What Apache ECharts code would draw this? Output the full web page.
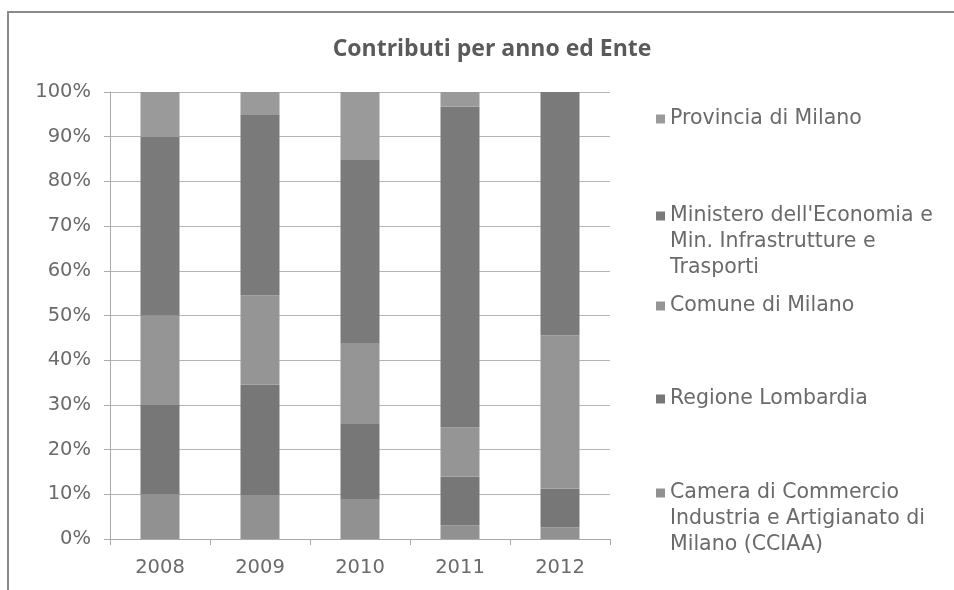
<!DOCTYPE html>
<html>
<head>
<meta charset="utf-8">
<script src="https://cdn.jsdelivr.net/npm/echarts@6/dist/echarts.min.js"></script>
<style>
html,body{margin:0;padding:0;background:#fff;}
#chart{width:954px;height:590px;}
</style>
</head>
<body>
<div id="chart"></div>
<script>
const years = ['2008', '2009', '2010', '2011', '2012'];
const yTicks = [0, 10, 20, 30, 40, 50, 60, 70, 80, 90, 100];
const camera = [10, 9.7, 8.8, 3.1, 2.6];
const regione = [20, 24.8, 16.9, 10.9, 8.7];
const comune = [20, 20, 18, 11, 34.2];
const ministero = [40, 40.5, 41.1, 71.7, 54.5];
const provincia = [10, 5, 15.2, 3.3, 0];

const nameCamera = 'Camera di Commercio\nIndustria e Artigianato di\nMilano (CCIAA)';
const nameRegione = 'Regione Lombardia';
const nameComune = 'Comune di Milano';
const nameMinistero = "Ministero dell'Economia e\nMin. Infrastrutture e\nTrasporti";
const nameProvincia = 'Provincia di Milano';

const FONT = 'DejaVu Sans';
const TXT = '#6a6a6a';
const LH = 26;

function mkLegend(name, iconCenterY, lines) {
  // prepend blank lines so that the first text line sits beside the icon
  const blanks = lines - 1;
  const total = lines + blanks;
  return {
    orient: 'vertical',
    left: 656,
    top: iconCenterY - total * LH / 2,
    padding: 0,
    icon: 'rect',
    itemWidth: 9,
    itemHeight: 9,
    selectedMode: false,
    data: [name],
    formatter: function (n) { return '\n'.repeat(blanks) + n; },
    textStyle: { fontFamily: FONT, fontSize: 20.5, color: TXT, lineHeight: LH }
  };
}

const chart = echarts.init(document.getElementById('chart'));
const option = {
  backgroundColor: '#ffffff',
  animation: false,
  title: {
    text: 'Contributi per anno ed Ente',
    left: 487,
    textAlign: 'center',
    top: 33,
    textStyle: { fontFamily: 'Open Sans', fontWeight: 'bold', fontSize: 23, color: '#5a5a5a' }
  },
  graphic: [{
    type: 'rect', z: -10, silent: true,
    shape: { x: 8, y: 12, width: 1000, height: 1000 },
    style: { fill: 'none', stroke: '#8a8a8a', lineWidth: 2 }
  }],
  legend: [
    mkLegend(nameProvincia, 119, 1),
    mkLegend(nameMinistero, 216, 3),
    mkLegend(nameComune, 306, 1),
    mkLegend(nameRegione, 399, 1),
    mkLegend(nameCamera, 493, 3)
  ],
  grid: { left: 110, right: 344, top: 92, bottom: 51, containLabel: false },
  xAxis: {
    type: 'category',
    data: years,
    axisLine: { lineStyle: { color: '#aaaaaa', width: 1 } },
    axisTick: { show: true, length: 6, lineStyle: { color: '#aaaaaa' } },
    axisLabel: { fontFamily: FONT, fontSize: 19.5, color: TXT, margin: 19 }
  },
  yAxis: {
    type: 'value',
    min: yTicks[0],
    max: yTicks[yTicks.length - 1],
    interval: 10,
    axisLine: { show: true, lineStyle: { color: '#aaaaaa', width: 1 } },
    axisTick: { show: true, length: 6, lineStyle: { color: '#aaaaaa' } },
    splitLine: { lineStyle: { color: '#b4b4b4', width: 1 } },
    axisLabel: { fontFamily: FONT, fontSize: 19.5, color: TXT, margin: 19, formatter: '{value}%' }
  },
  series: [
    { name: nameCamera, type: 'bar', stack: 's', barWidth: 39, data: camera, itemStyle: { color: '#919191' } },
    { name: nameRegione, type: 'bar', stack: 's', barWidth: 39, data: regione, itemStyle: { color: '#777777' } },
    { name: nameComune, type: 'bar', stack: 's', barWidth: 39, data: comune, itemStyle: { color: '#959595' } },
    { name: nameMinistero, type: 'bar', stack: 's', barWidth: 39, data: ministero, itemStyle: { color: '#7a7a7a' } },
    { name: nameProvincia, type: 'bar', stack: 's', barWidth: 39, data: provincia, itemStyle: { color: '#9a9a9a' } }
  ]
};
chart.setOption(option);
</script>
</body>
</html>
